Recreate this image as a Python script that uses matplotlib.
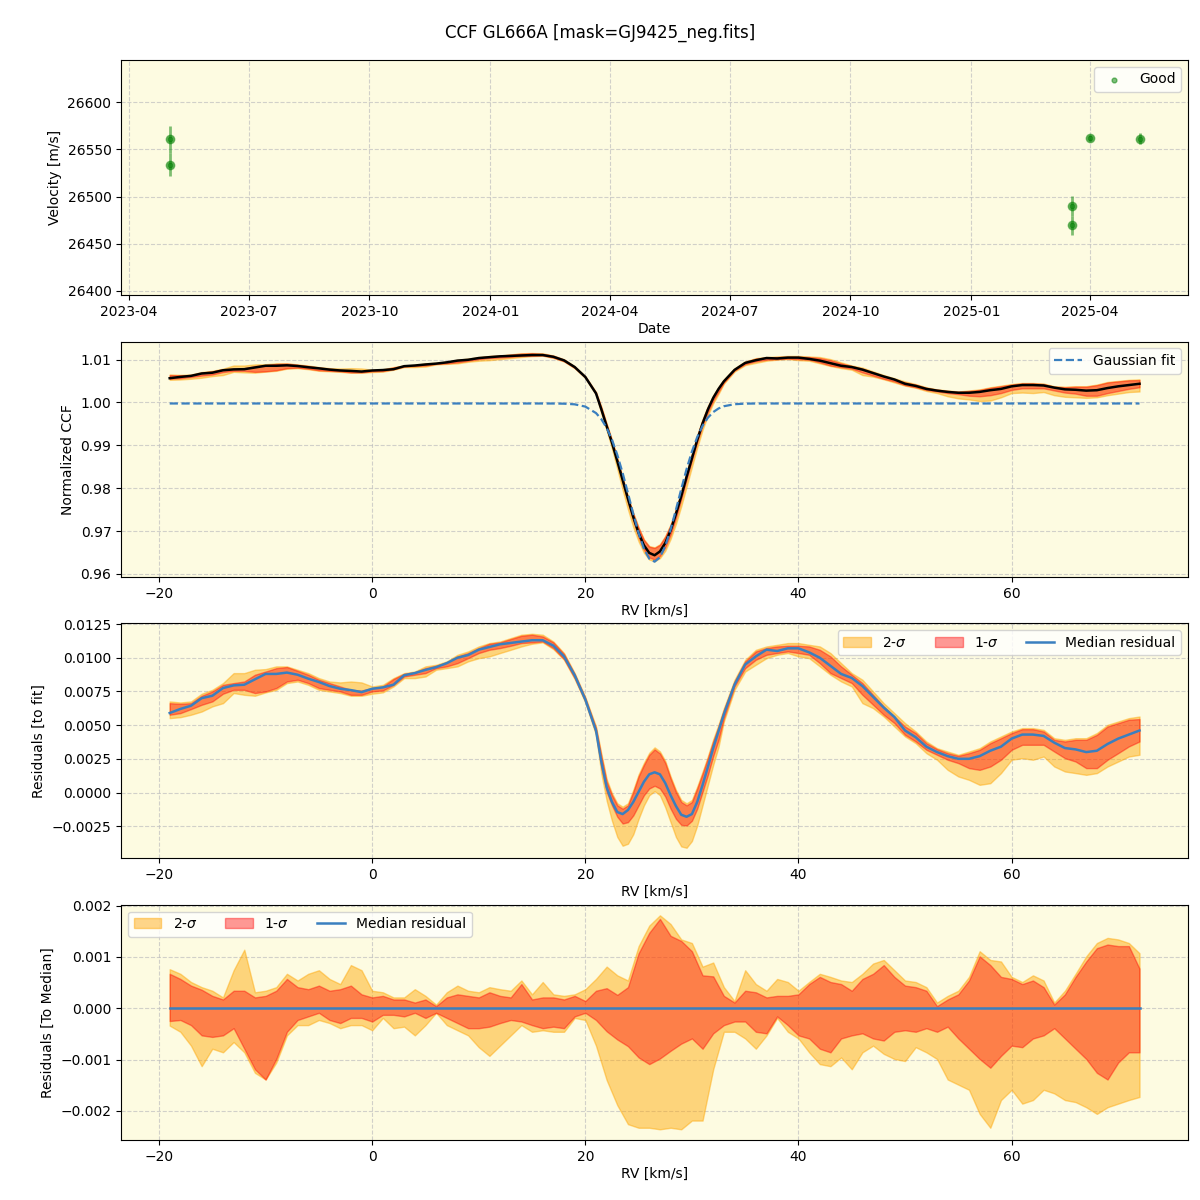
import numpy as np
import pandas as pd
import matplotlib
matplotlib.use("Agg")
import matplotlib.pyplot as plt

# ---- RV time series (top panel) ----
obs_dates = ["2023-05-02", "2023-05-02", "2025-03-19", "2025-03-19", "2025-04-01", "2025-05-09"]
obs_vel = [26560.6, 26533.8, 26489.8, 26469.4, 26562.3, 26561.3]
obs_err = [14.0, 12.4, 10.5, 10.0, 3.0, 6.0]

# ---- CCF velocity grid [km/s] (finer around the line core) ----
rv = np.r_[np.arange(-19, 21.5, 1), np.arange(21.5, 33, 0.5), np.arange(33, 73, 1)]
rv4 = np.arange(-19, 73, 1)

# gaussian fit parameters
g_cont = 0.99975
g_depth = 0.0369
g_center = 26.45
g_sigma = 2.3

# residuals to fit, units of 1e-4 (median, 1-sigma and 2-sigma envelopes)
res_med = [59, 62, 64.4, 70, 71.8, 77.5, 79.5, 80, 84, 88, 88, 89, 87.4, 84.5, 82, 79, 77, 76, 74.5, 77,
           78, 80, 87, 88.6, 91, 93, 96, 100, 102, 106, 108, 110, 111, 112, 113, 113, 109, 101, 87, 69,
           46, 23, 4, -7, -14.5, -16, -13, -7, 0.5, 8, 13.5, 15, 13.5, 7, -2, -10, -16.5, -18, -16, -7, 5.5, 19, 33, 45.5,
           58, 80, 95, 101, 106, 105, 107, 107, 104, 100, 94, 88, 85, 79, 71, 63, 56, 46, 41, 34,
           30, 27, 25, 25, 27, 31, 34, 40, 43, 43, 42, 37, 33, 32, 30, 31, 36, 40, 43, 46]
res_hi2 = [67.6, 66.8, 67.6, 73.3, 76.2, 81.2, 88.6, 88.6, 91.1, 91.6, 93.6, 93.6, 91.1, 88.6, 84.9, 82.4, 81.7, 82.4, 81.7, 78.7,
           79.9, 84.9, 88.6, 89.8, 93.6, 94.8, 97.3, 102.2, 104.7, 108.4, 110.9, 112.1, 114.6, 117.1, 117.8, 117.1, 112.1, 103.5, 88.6, 70.8,
           49, 29, 10, -0.5, -8, -10.5, -8, 2, 13.5, 22, 29.5, 33.5, 30.5, 23.5, 12, 2, -5.5, -8, -5.5, 4.5, 15.5, 27, 39.5, 50.5,
           62.6, 83.7, 98.5, 105.9, 108.4, 109.6, 110.9, 110.9, 109.6, 108.4, 103.5, 96, 88.6, 83.7, 75, 66.3, 58.9, 51.5, 45.3, 37.9,
           32.9, 30.4, 28, 30.4, 32.9, 37.9, 41.6, 45.3, 47.8, 47.8, 46.5, 40.3, 39.1, 40.3, 40.3, 44.1, 50.2, 52.7, 55.2, 56.4]
res_hi1 = [66.3, 65.8, 66.3, 71.8, 75, 79.9, 81.2, 82.4, 87.4, 89.8, 92.3, 93.1, 90.3, 87.4, 83.7, 81.2, 78.7, 76.2, 75.7, 77.5,
           78.7, 84.2, 88.1, 89.3, 92.3, 94.1, 96.5, 101, 103.5, 107.2, 110.4, 111.4, 113.9, 116.3, 117.1, 115.8, 111.4, 102.7, 87.9, 70,
           47.8, 27, 8, -2, -9.5, -12, -9.5, 0.5, 12, 20.5, 28, 32, 29, 22, 10.5, 0.5, -7, -9.5, -7, 3, 14, 25.5, 38, 49,
           61.4, 82.4, 97.3, 104.7, 107.2, 108.4, 108.9, 108.9, 108.4, 105.9, 101, 93.6, 87.4, 81.2, 72.5, 63.9, 56.4, 49, 44.1, 36.6,
           32.2, 29.2, 27.2, 29.2, 31.7, 36.6, 40.3, 44.1, 47, 47, 45.3, 39.1, 37.9, 39.1, 39.1, 42.8, 49, 51.5, 54, 54.5]
res_lo1 = [57.7, 58.9, 61.9, 65.1, 67.6, 73.3, 76.2, 76.2, 73.8, 75, 77.5, 82.4, 83.7, 81.2, 77.5, 76.2, 75, 72.5, 72.5, 75,
           75.7, 79.9, 86.1, 87.4, 88.6, 92.3, 93.6, 96, 99.7, 103.5, 105.9, 107.2, 108.9, 110.9, 111.4, 112.1, 107.2, 99, 84.9, 67.6,
           44.1, 19, 0.5, -9.5, -18, -23, -22, -17, -9.5, -2, 3, 5, 3, -3, -12, -19.5, -24, -24.5, -21, -12, 0.5, 13, 27, 39,
           55.2, 78.7, 92.3, 98.5, 102.2, 103.5, 104.7, 103.5, 102.2, 96, 88.6, 84.9, 81.2, 72.5, 65.1, 57.7, 51.5, 42.8, 37.9, 31.7,
           28, 24.3, 21.8, 18.1, 16.8, 19.3, 24.3, 31.7, 35.4, 35.4, 35.4, 30.4, 25.5, 23, 18.1, 18.1, 24.3, 29.2, 34.2, 37.9]
res_lo2 = [55.2, 55.9, 57.7, 60.1, 63.9, 66.3, 73.8, 72.5, 71.8, 74.3, 76.2, 81.2, 82.4, 79.9, 76.2, 75, 73.8, 71.8, 71.8, 73.3,
           74.3, 78.7, 84.9, 84.9, 86.1, 91.1, 92.3, 93.6, 97.3, 99.7, 101, 103.5, 105.9, 108.4, 110.4, 111.4, 106.4, 98.5, 84.2, 66.8,
           42.8, 14, -6, -21, -33, -39.5, -38, -31, -19.5, -9.5, -2, 1, -2, -11, -22, -33, -40, -41, -36, -24.5, -9.5, 5.5, 20.5, 34,
           52.7, 76.2, 89.8, 94.8, 99.7, 102.2, 103.5, 101, 99.7, 93.6, 87.4, 82.4, 78.7, 66.3, 62.6, 56.4, 49, 41.6, 36.6, 29.2,
           24.3, 16.8, 11.9, 9.4, 5.7, 6.9, 14.4, 24.3, 25.5, 24.3, 26.7, 19.3, 15.6, 14.4, 13.1, 14.4, 19.3, 23, 26.7, 28]

# residuals relative to median (on rv4), units of 1e-4
med_hi2 = [7.6, 6.7, 5.1, 4.1, 3.4, 2.1, 7.4, 11.4, 3.1, 3.4, 4.1, 6.7, 5.4, 6.7, 7.4, 5.7, 4.7, 8.4, 7.4, 3.4,
           3.1, 2.1, 2.1, 3.7, 2.4, 0.7, 3.1, 4.4, 3.4, 3.1, 4.1, 3.7, 3.4, 5.4, 2.7, 5.1, 2.7, 2.4, 2.7, 3.7,
           5.7, 8.1, 6.4, 5.4, 12.1, 16.1, 18.1, 16.4, 13.4, 12.7, 8.1, 8.9, 4.1, 1.4, 7.4, 4.7, 3.4, 5.7, 5.1, 3.4,
           5.1, 6.7, 6.1, 5.4, 5.1, 6.7, 8.7, 9.4, 7.4, 5.4, 5.1, 4.1, 1.1, 2.4, 3.4, 6.1, 11.1, 9.4, 9.1, 6.1,
           5.1, 6.4, 5.4, 1.1, 3.4, 6.7, 10.1, 12.7, 13.7, 13.4, 12.7, 10.7]
med_hi1 = [6.7, 5.7, 4.4, 3.6, 2.4, 1.7, 3.4, 3.4, 2.1, 2.4, 3.4, 5.7, 4.1, 3.7, 4.4, 3.4, 3.7, 4.4, 2.7, 2.1,
           2.4, 1.7, 1.7, 1.1, 1.7, 0.4, 2.1, 2.7, 2.4, 2.1, 3.1, 2.4, 2.1, 4.7, 1.7, 2.1, 2.1, 1.7, 2.4, 1.4,
           3.4, 3.9, 2.6, 4.1, 10.7, 14.7, 17.4, 14.1, 13.1, 11.1, 6.4, 6.2, 2.4, 1.1, 3.4, 3.1, 2.1, 2.4, 2.4, 2.7,
           4.7, 6.1, 5.1, 4.7, 3.4, 5.7, 6.7, 8.4, 6.1, 4.4, 4.1, 3.4, 0.4, 1.7, 2.7, 5.4, 10.1, 8.4, 6.1, 5.7,
           4.7, 5.4, 4.1, 0.7, 2.7, 6.1, 9.1, 11.7, 12.4, 12.1, 12.1, 7.7]
med_lo1 = [-2.5, -2.3, -3.3, -5.3, -5.6, -5.3, -3.9, -7.9, -11.9, -13.9, -9.9, -4.6, -2.3, -1.6, -0.9, -2.3, -2.9, -1.9, -1.9, -2.6,
           -1.3, -1.3, -1.6, -0.9, -1.9, -0.9, -1.9, -2.9, -3.9, -3.9, -3.6, -2.9, -2.3, -2.6, -3.3, -3.9, -3.6, -3.9, -1.6, -0.9,
           -2.3, -4.5, -6.1, -7.4, -9.6, -10.9, -9.8, -8.3, -6.9, -5.9, -7.9, -4.9, -3.3, -2.6, -2.6, -4.6, -4.9, -1.6, -3.3, -5.3,
           -5.9, -7.9, -8.6, -5.9, -5.3, -4.9, -5.9, -6.3, -4.6, -4.3, -4.6, -3.9, -4.6, -3.6, -5.9, -7.9, -9.9, -11.6, -9.3, -7.3,
           -7.6, -5.9, -5.3, -3.9, -5.9, -7.9, -9.9, -12.6, -13.9, -10.6, -8.6, -8.6]
med_lo2 = [-3.4, -4.6, -7.3, -11.3, -7.9, -8.6, -6.6, -8.6, -12.6, -13.9, -10.6, -5.3, -3.3, -3.3, -2.3, -2.9, -3.9, -3.3, -3.3, -4.3,
           -1.9, -3.9, -3.6, -5.3, -3.3, -0.9, -3.3, -4.3, -5.3, -7.6, -9.3, -7.3, -5.3, -3.3, -4.6, -4.3, -4.6, -4.6, -1.9, -2.3,
           -7.3, -14, -18.9, -22.6, -23.3, -23.3, -23.6, -23.3, -23.6, -21.9, -21.9, -11.9, -4.6, -4.6, -5.9, -7.9, -5.3, -1.9, -4.6, -5.9,
           -8.6, -10.9, -11.3, -9.6, -11.9, -8.6, -7.3, -8.9, -9.9, -10.3, -7.6, -8.6, -9.9, -13.9, -14.9, -15.9, -20.6, -23.3, -17.9, -15.9,
           -18.6, -17.9, -15.9, -16.6, -17.9, -18.3, -19.3, -20.6, -19.3, -18.6, -17.9, -17.3]

scale = 1e-4
res_med = np.array(res_med) * scale
res_hi2 = np.array(res_hi2) * scale
res_hi1 = np.array(res_hi1) * scale
res_lo1 = np.array(res_lo1) * scale
res_lo2 = np.array(res_lo2) * scale

gauss = g_cont - g_depth * np.exp(-(rv - g_center) ** 2 / (2 * g_sigma ** 2))

bg = "#fdfbe1"
c2 = "orange"
c1 = "red"
line_c = "#3a7fbf"

fig, axes = plt.subplots(4, 1, figsize=(12, 12), dpi=100)
fig.subplots_adjust(left=0.101, right=0.99, top=0.95, bottom=0.05, hspace=0.196)
fig.suptitle("CCF GL666A [mask=GJ9425_neg.fits]", fontsize=12, y=0.98)

for ax in axes:
    ax.set_facecolor(bg)
    ax.grid(True, linestyle="--", color="0.75", alpha=0.7)
    ax.set_axisbelow(True)

# panel 1: velocities
ax = axes[0]
dates = pd.to_datetime(obs_dates)
ax.errorbar(dates, obs_vel, yerr=obs_err, fmt="o", color="green", alpha=0.5, ms=6, lw=2)
ax.scatter(dates, obs_vel, s=12, color="green", alpha=0.5, label="Good")
ax.set_ylim(26395, 26645)
ax.set_xlabel("Date", labelpad=2)
ax.set_ylabel("Velocity [m/s]")
ax.legend(loc="upper right")

# panel 2: CCF
ax = axes[1]
ax.fill_between(rv, gauss + res_lo2, gauss + res_hi2, color=c2, alpha=0.45, lw=1)
ax.fill_between(rv, gauss + res_lo1, gauss + res_hi1, color=c1, alpha=0.4, lw=1)
ax.plot(rv, gauss + res_med, color="black", lw=1.8)
ax.plot(rv, gauss, "--", color=line_c, lw=1.6, label="Gaussian fit")
ax.set_ylim(0.9593, 1.0142)
ax.set_xlabel("RV [km/s]", labelpad=2)
ax.set_ylabel("Normalized CCF")
ax.legend(loc="upper right")

# panel 3: residuals to fit
ax = axes[2]
ax.fill_between(rv, res_lo2, res_hi2, color=c2, alpha=0.45, lw=1, label="2-$\\sigma$")
ax.fill_between(rv, res_lo1, res_hi1, color=c1, alpha=0.4, lw=1, label="1-$\\sigma$")
ax.plot(rv, res_med, color=line_c, lw=1.8, label="Median residual")
ax.set_xlabel("RV [km/s]", labelpad=2)
ax.set_ylabel("Residuals [to fit]")
ax.legend(loc="upper right", ncol=3)

# panel 4: residuals to median
ax = axes[3]
ax.fill_between(rv4, np.array(med_lo2) * scale, np.array(med_hi2) * scale, color=c2, alpha=0.45, lw=1, label="2-$\\sigma$")
ax.fill_between(rv4, np.array(med_lo1) * scale, np.array(med_hi1) * scale, color=c1, alpha=0.4, lw=1, label="1-$\\sigma$")
ax.plot(rv, res_med - res_med, color=line_c, lw=1.8, label="Median residual")
ax.set_xlabel("RV [km/s]", labelpad=2)
ax.set_ylabel("Residuals [To Median]")
ax.legend(loc="upper left", ncol=3)

fig.savefig("out.png")
